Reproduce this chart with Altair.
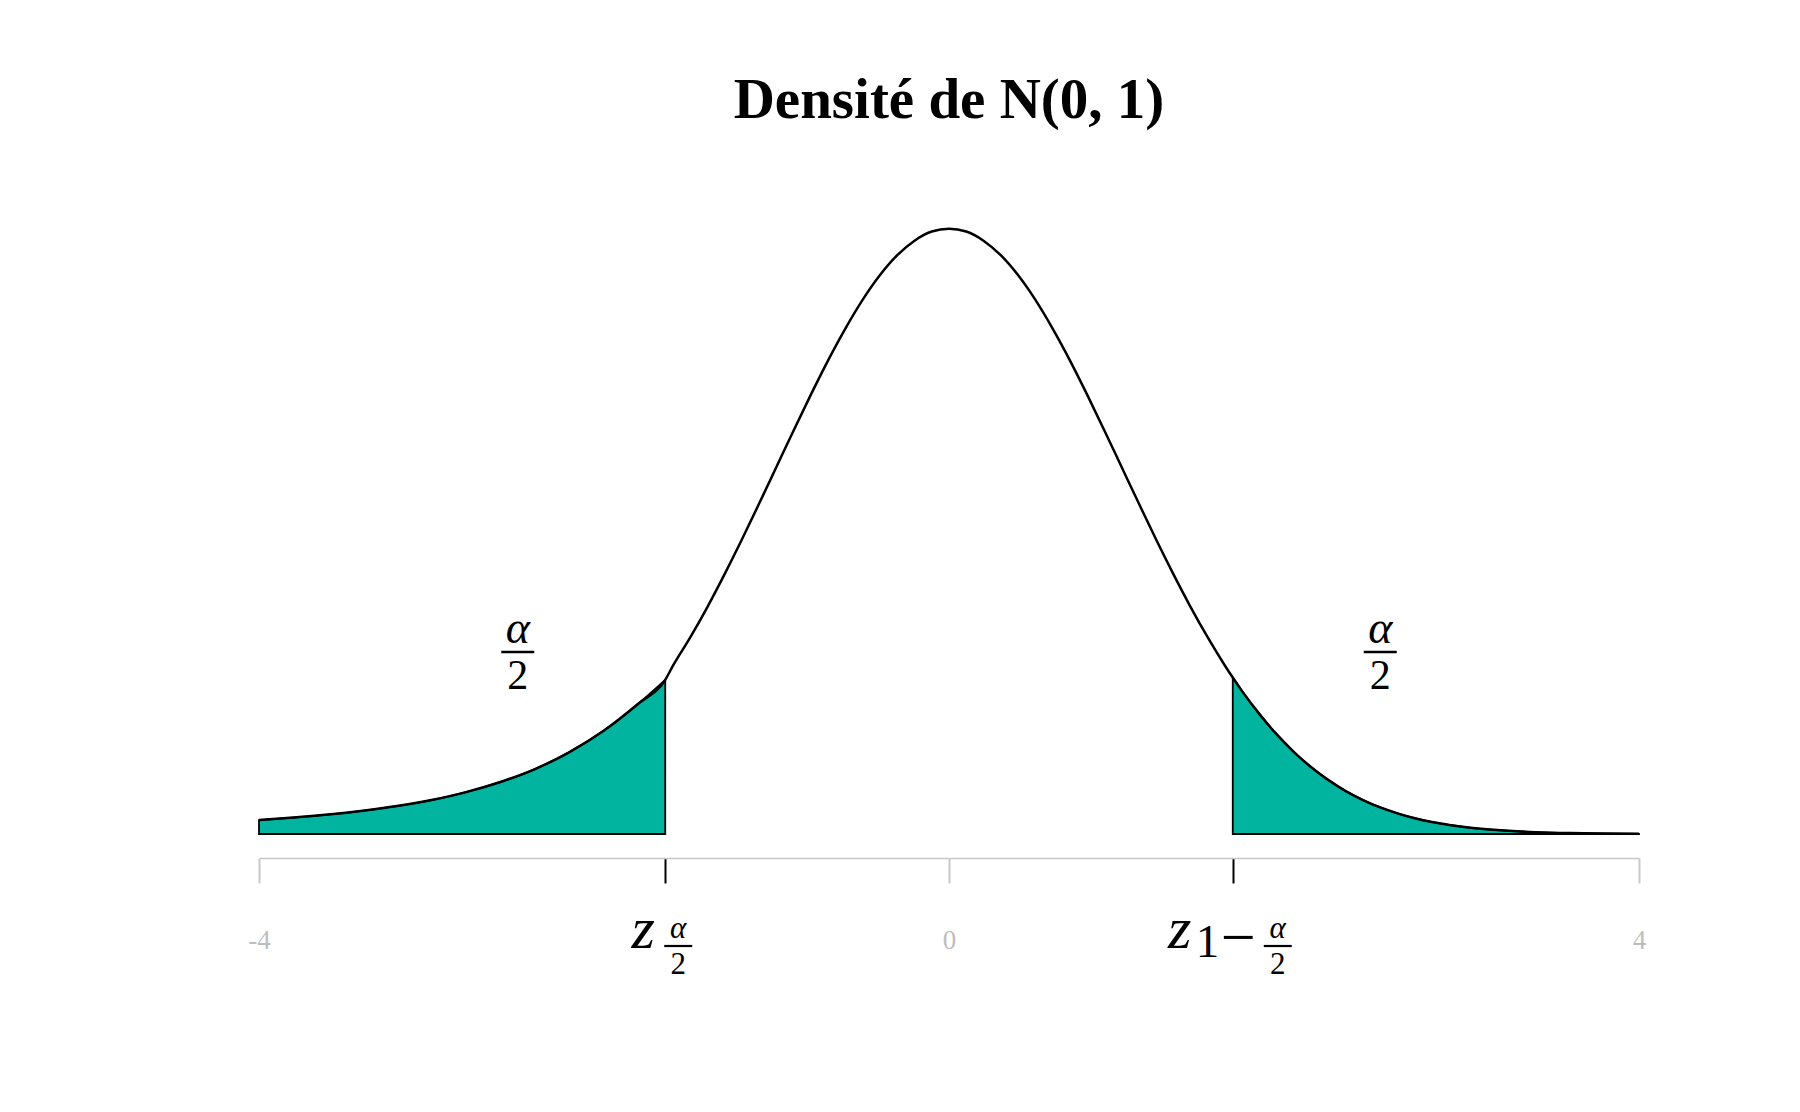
import altair as alt
import pandas as pd

SERIF = "Liberation Serif"
FILL = "#00B4A0"

# density curve N(0,1) from z_{alpha/2} to 4
curve_x = [-1.645, -1.6, -1.5, -1.4, -1.3, -1.2, -1.1, -1.0, -0.9, -0.8, -0.7, -0.6, -0.5,
           -0.4, -0.3, -0.2, -0.1, 0.0, 0.1, 0.2, 0.3, 0.4, 0.5, 0.6, 0.7, 0.8, 0.9, 1.0,
           1.1, 1.2, 1.3, 1.4, 1.5, 1.6, 1.645, 1.7, 1.8, 1.9, 2.0, 2.1, 2.2, 2.3, 2.4, 2.5,
           2.6, 2.7, 2.8, 2.9, 3.0, 3.2, 3.4, 3.6, 3.8, 4.0]
curve_y = [0.1031, 0.1109, 0.1295, 0.1497, 0.1714, 0.1942, 0.2179, 0.2420, 0.2661, 0.2897,
           0.3123, 0.3332, 0.3521, 0.3683, 0.3814, 0.3910, 0.3970, 0.3989, 0.3970, 0.3910,
           0.3814, 0.3683, 0.3521, 0.3332, 0.3123, 0.2897, 0.2661, 0.2420, 0.2179, 0.1942,
           0.1714, 0.1497, 0.1295, 0.1109, 0.1031, 0.0940, 0.0790, 0.0656, 0.0540, 0.0440,
           0.0355, 0.0283, 0.0224, 0.0175, 0.0136, 0.0104, 0.0079, 0.0060, 0.0044, 0.0024,
           0.0012, 0.0006, 0.0003, 0.0001]

# left shaded tail as drawn (-4 to z_{alpha/2})
tail_x = [-4.0, -3.8, -3.6, -3.4, -3.2, -3.0, -2.8, -2.6, -2.4, -2.2, -2.0, -1.8, -1.645]
tail_y = [0.0092, 0.0108, 0.0128, 0.0153, 0.0184, 0.0224, 0.0276, 0.0343, 0.0428, 0.0540,
          0.0682, 0.0860, 0.1016]

crit = [-1.645, 1.645]
axis_values = [-4, -1.645, 0, 1.645, 4]
axis_labels = ["-4", "", "0", "", "4"]

frac_x = [-2.5, 2.5]
frac_y = [0.12, 0.12]

line_df = pd.DataFrame({"x": tail_x + curve_x[1:], "y": tail_y + curve_y[1:]})
left_df = pd.DataFrame({"x": tail_x, "y": tail_y})
right_df = pd.DataFrame({"x": [v for v in curve_x if v >= 1.645],
                         "y": [curve_y[i] for i, v in enumerate(curve_x) if v >= 1.645]})

label_map = " : ".join(
    f"datum.value == {v} ? '{l}'" for v, l in zip(axis_values, axis_labels)
) + " : ''"

xs = alt.Scale(domain=[-4, 4], nice=False, zero=False)
ys = alt.Scale(domain=[0, 0.4], nice=False)
ax = alt.Axis(values=axis_values, labelExpr=label_map, grid=False, offset=24,
              domainColor="#c8c8c8", domainWidth=1.5, tickSize=25, tickWidth=2,
              tickColor={"condition": {"test": "abs(datum.value) > 1 && abs(datum.value) < 2",
                                       "value": "black"}, "value": "#c8c8c8"},
              labelFont=SERIF, labelFontSize=27, labelColor="#bdbdbd",
              labelBaseline="alphabetic", labelPadding=65, labelFlush=False,
              labelOverlap=False, title=None)

X = alt.X("x:Q", scale=xs, axis=ax)
Y = alt.Y("y:Q", scale=ys, axis=None)

left_area = alt.Chart(left_df).mark_area(
    color=FILL, stroke="black", strokeWidth=1.8, interpolate="monotone", opacity=1
).encode(x=X, y=Y)
right_area = alt.Chart(right_df).mark_area(
    color=FILL, stroke="black", strokeWidth=1.8, interpolate="monotone", opacity=1
).encode(x=X, y=Y)
curve = alt.Chart(line_df).mark_line(
    color="black", strokeWidth=2.5, interpolate="monotone"
).encode(x=X, y=Y)


def txt(xv, yv, t, size, dx, dy, italic=False, align="center"):
    df = pd.DataFrame({"x": xv, "y": yv, "t": t})
    return alt.Chart(df).mark_text(
        font=SERIF, fontSize=size, fontStyle="italic" if italic else "normal",
        dx=dx, dy=dy, align=align, baseline="alphabetic", color="black"
    ).encode(x=X, y=Y, text="t:N")


def bar(xv, yv, x0, x1, yoff=0, w=2.5):
    df = pd.DataFrame({"x": xv, "y": yv})
    return alt.Chart(df).mark_rule(
        color="black", strokeWidth=w, xOffset=x0, x2Offset=x1, yOffset=yoff, y2Offset=yoff
    ).encode(x=X, x2=alt.X2("x"), y=Y)


layers = [left_area, right_area, curve,
          # alpha/2 above each tail
          txt(frac_x, frac_y, ["α", "α"], 46, 0, -9, italic=True),
          bar(frac_x, frac_y, -16.5, 16.5),
          txt(frac_x, frac_y, ["2", "2"], 42, 0, 37.5),
          # z_{alpha/2}
          txt([crit[0]], [0], ["z"], 60, -22, 114, italic=True),
          txt([crit[0]], [0], ["α"], 31, 13, 104, italic=True),
          bar([crit[0]], [0], -1, 27, yoff=112, w=2.2),
          txt([crit[0]], [0], ["2"], 31, 13, 140),
          # z_{1-alpha/2}
          txt([crit[1]], [0], ["z"], 60, -53, 114, italic=True),
          txt([crit[1]], [0], ["1"], 47, -37, 123, align="left"),
          txt([crit[1]], [0], ["−"], 62, -12, 124, align="left"),
          txt([crit[1]], [0], ["α"], 31, 45, 104, italic=True),
          bar([crit[1]], [0], 31, 59, yoff=112, w=2.2),
          txt([crit[1]], [0], ["2"], 31, 45, 140),
          ]

chart = alt.layer(*layers).properties(
    width=1380, height=607,
    padding={"left": 251, "top": 219, "right": 140, "bottom": 250},
    autosize=alt.AutoSizeParams(type="none"),
    title=alt.TitleParams("Densité de N(0, 1)", font=SERIF, fontSize=57, fontWeight="bold",
                          anchor="middle", offset=49, baseline="alphabetic", color="black"),
).configure_view(stroke=None)

chart.save("out.html", embed_options={"renderer": "svg", "actions": False})
